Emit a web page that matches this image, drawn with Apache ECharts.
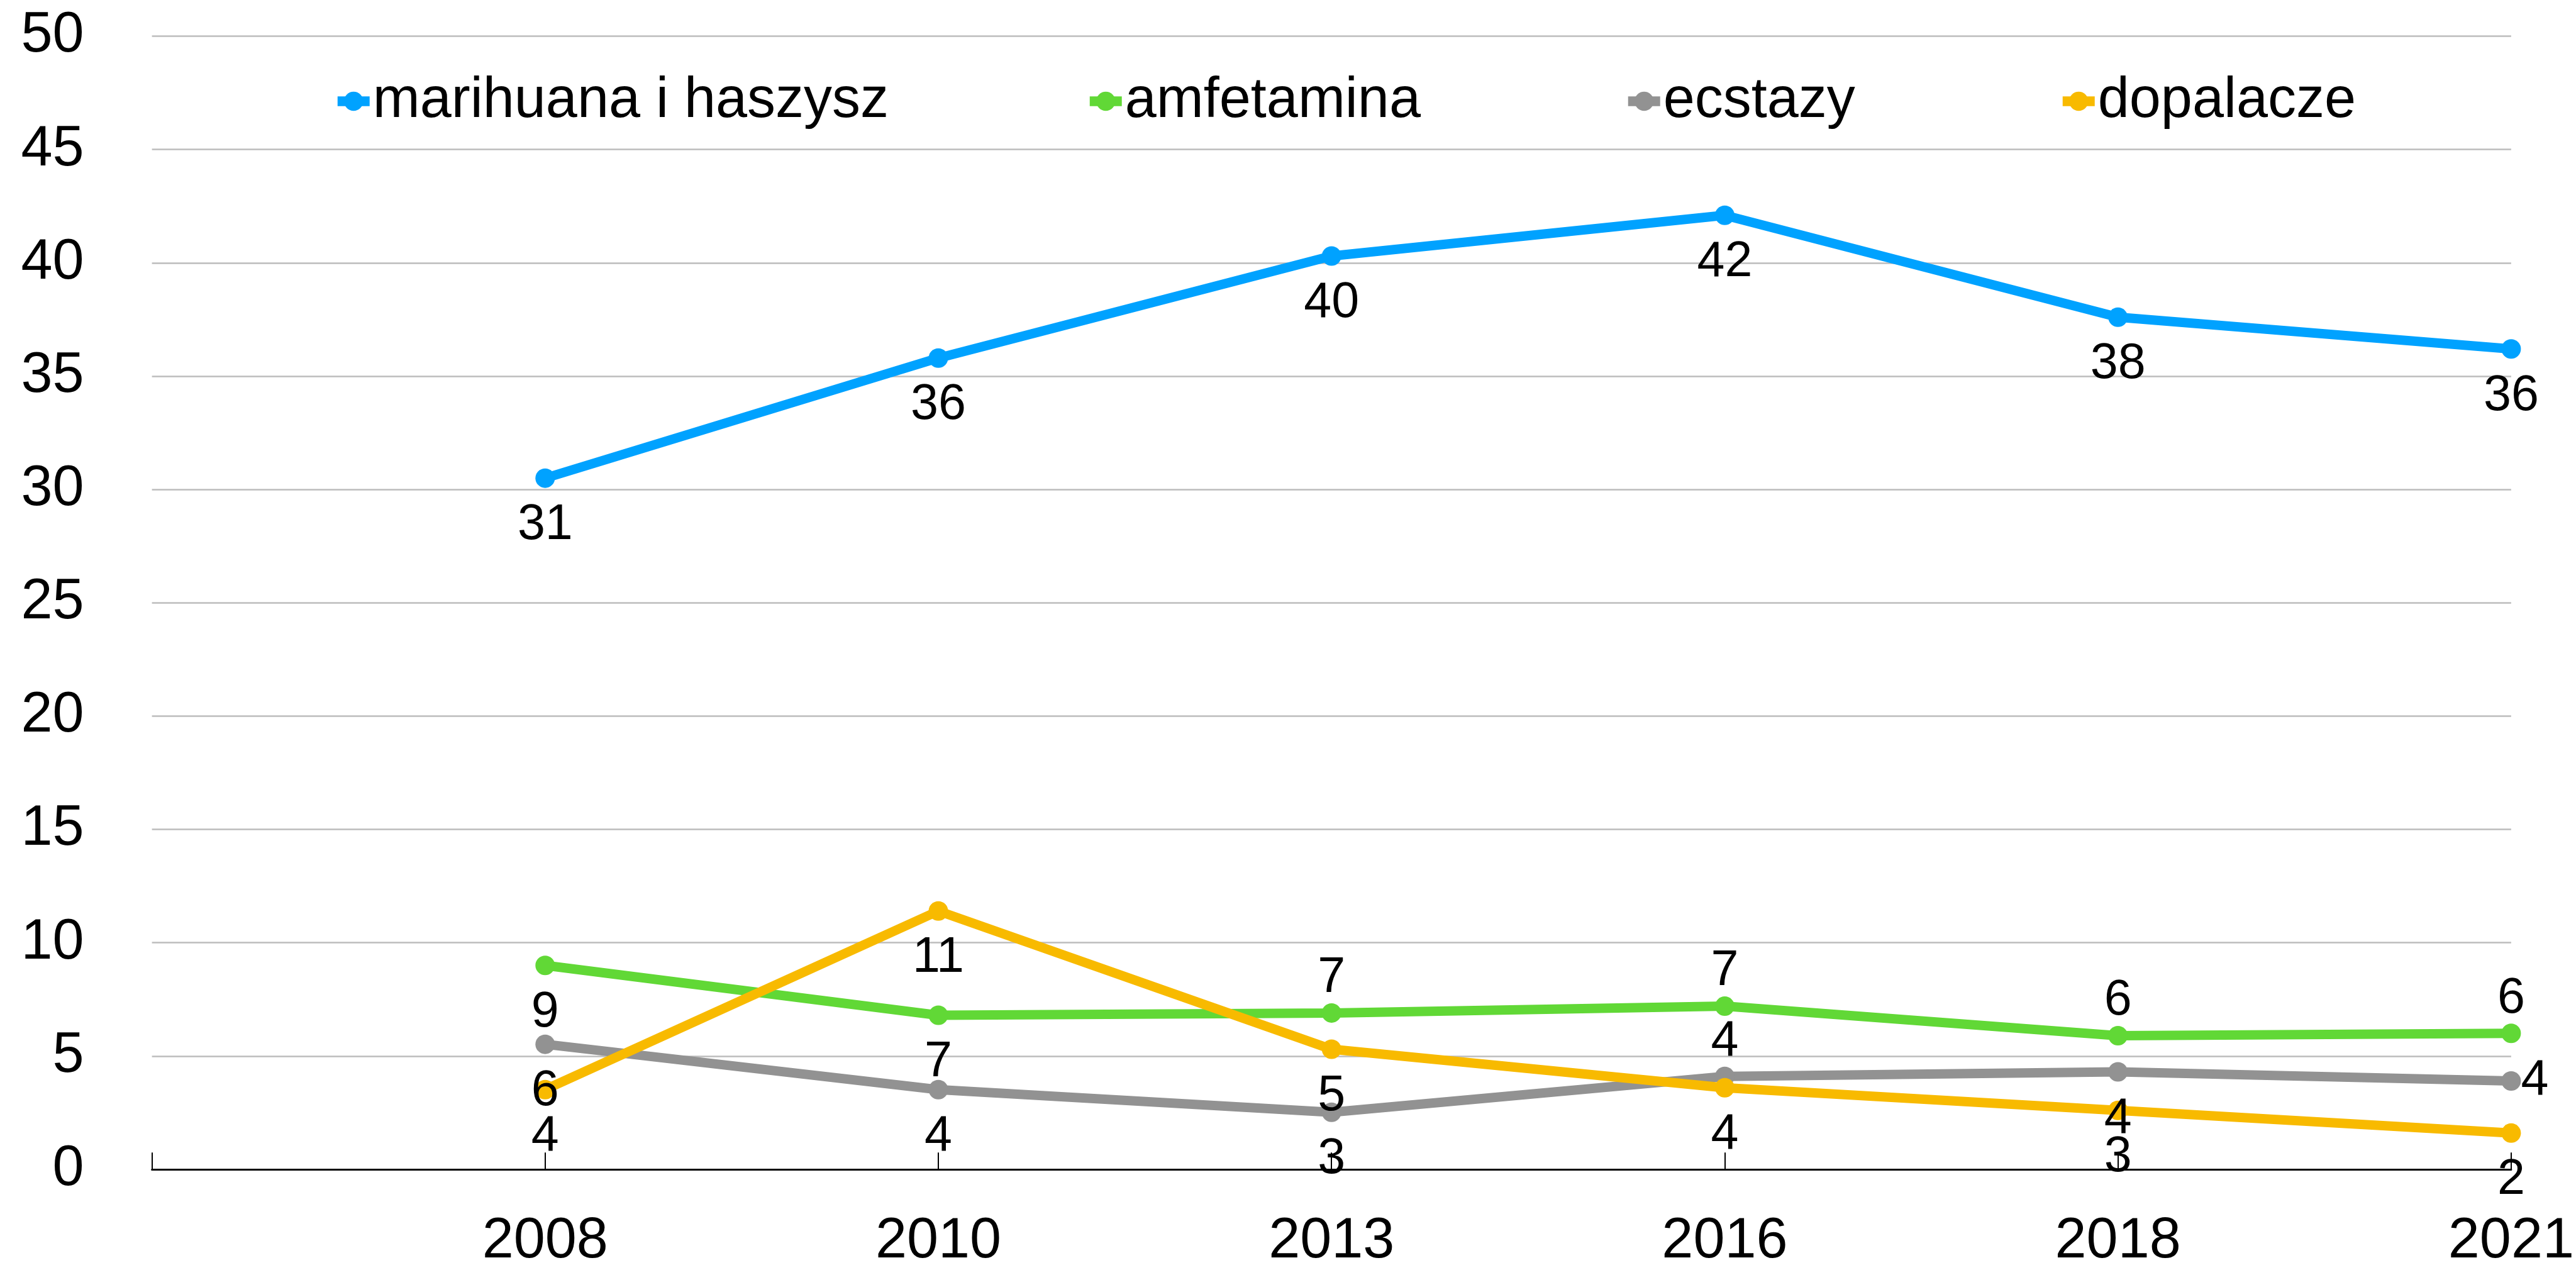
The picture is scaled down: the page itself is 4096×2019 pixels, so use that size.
<!DOCTYPE html>
<html>
<head>
<meta charset="utf-8">
<script src="https://cdn.jsdelivr.net/npm/echarts@6/dist/echarts.min.js"></script>
<style>
    html, body { margin: 0; padding: 0; background: #ffffff; }
    #chart { width: 4096px; height: 2019px; }
</style>
</head>
<body>
<div id="chart"></div>
<script>
// first category is left empty, as in the original chart
const categories = ["", "2008", "2010", "2013", "2016", "2018", "2021"];
const seriesNames = ["marihuana i haszysz", "amfetamina", "ecstazy", "dopalacze"];

const marihuana = [30.5, 35.8, 40.3, 42.1, 37.6, 36.2];
const amfetamina = [9.0, 6.8, 6.9, 7.2, 5.9, 6.0];
const ecstazy = [5.52, 3.52, 2.52, 4.1, 4.3, 3.9];
const dopalacze = [3.52, 11.4, 5.3, 3.6, 2.6, 1.6];

const yTicks = { min: 0, max: 50, interval: 5 };

const COLORS = ["#00a2ff", "#61d836", "#929292", "#f8ba00"];
const FONT = "'Liberation Sans', Arial, sans-serif";

// where each point label sits (Numbers-style placement)
const LABEL_PLACEMENT = [
    ["bottom", "bottom", "bottom", "bottom", "bottom", "bottom"],
    ["bottom", "bottom", "top", "top", "top", "top"],
    ["bottom", "bottom", "bottom", "top", "bottom", "right"],
    ["bottom", "bottom", "bottom", "bottom", "bottom", "bottom"],
];
// small vertical nudges (px) for labels that sit off the usual spot
const LABEL_NUDGE = [
    [0, 0, 0, 0, 0, 0],
    [0, 0, -5, 0, 18, 13],
    [0, 0, 0, 16, -42, -10],
    [0, 0, 0, -8, 0, 0],
];
const LEGEND_LEFT = [529, 1725, 2581, 3272];

const allValues = [marihuana, amfetamina, ecstazy, dopalacze];

function buildData(values, placement, nudge) {
    const data = [null];
    values.forEach((value, i) => {
        const pos = placement[i];
        data.push({
            value: value,
            label: {
                position: pos,
                distance: pos === "top" ? 0 : pos === "right" ? 0 : 20,
                offset: [0, nudge[i]],
            },
        });
    });
    return data;
}

const chart = echarts.init(document.getElementById("chart"));

chart.setOption({
    animation: false,
    backgroundColor: "#ffffff",
    textStyle: { fontFamily: FONT },
    grid: { left: 241.6, right: 101.5, top: 57.6, bottom: 151.7, containLabel: false },
    legend: seriesNames.map((name, i) => ({
        data: [name],
        left: LEGEND_LEFT[i],
        top: 116,
        padding: 0,
        itemWidth: 51,
        itemHeight: 38,
        itemGap: 0,
        lineStyle: { width: 15.5 },
        textStyle: { fontFamily: FONT, fontSize: 90, color: "#000000" },
        selectedMode: false,
    })),
    xAxis: {
        type: "category",
        data: categories,
        boundaryGap: false,
        axisLine: { show: true, lineStyle: { color: "#000000", width: 3 } },
        axisTick: { show: true, inside: true, length: 26.7, interval: 0, lineStyle: { color: "#000000", width: 2 } },
        axisLabel: { interval: 0, margin: 70, fontSize: 90, fontFamily: FONT, color: "#000000" },
        splitLine: { show: false },
    },
    yAxis: {
        type: "value",
        min: yTicks.min,
        max: yTicks.max,
        interval: yTicks.interval,
        axisLine: { show: false },
        axisTick: { show: false },
        axisLabel: { margin: 108, fontSize: 90, fontFamily: FONT, color: "#000000" },
        splitLine: { lineStyle: { color: "#bcbcbc", width: 2.5 } },
    },
    series: seriesNames.map((name, i) => ({
        name: name,
        type: "line",
        data: buildData(allValues[i], LABEL_PLACEMENT[i], LABEL_NUDGE[i]),
        symbol: "circle",
        symbolSize: 31,
        showSymbol: true,
        connectNulls: false,
        color: COLORS[i],
        lineStyle: { width: 15, color: COLORS[i] },
        itemStyle: { color: COLORS[i] },
        label: {
            show: true,
            fontSize: 79,
            fontFamily: FONT,
            color: "#000000",
            formatter: (p) => String(Math.round(p.value)),
        },
        labelLayout: { hideOverlap: false },
        emphasis: { disabled: true },
    })),
});
</script>
</body>
</html>
